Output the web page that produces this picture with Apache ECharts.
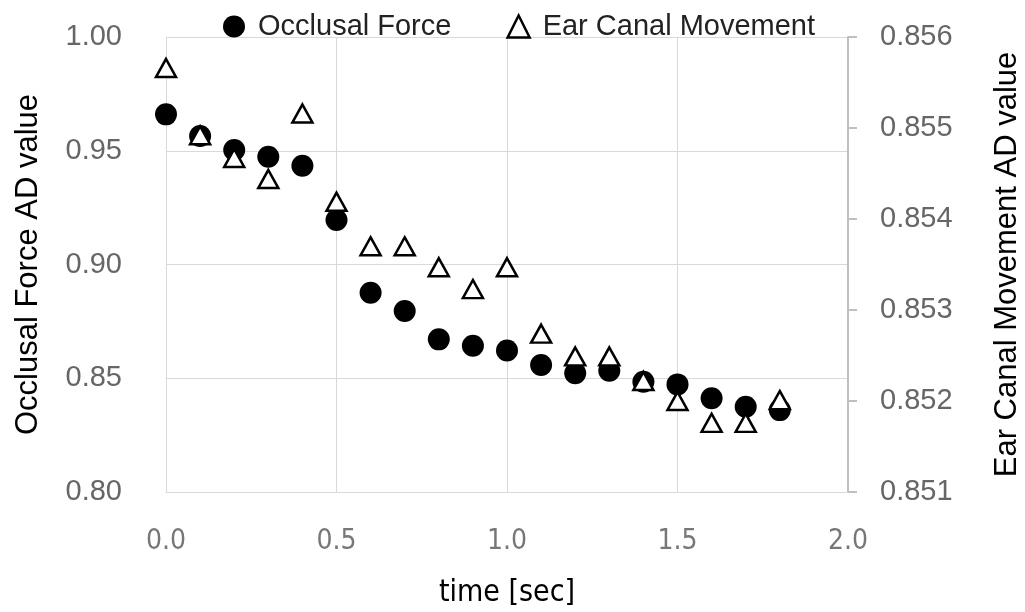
<!DOCTYPE html>
<html>
<head>
<meta charset="utf-8">
<script src="https://cdn.jsdelivr.net/npm/echarts@6/dist/echarts.min.js"></script>
<style>html,body{margin:0;padding:0;background:#fff;}#c{width:1025px;height:612px;}</style>
</head>
<body>
<div id="c"></div>
<script>
const times = [0.0, 0.1, 0.2, 0.3, 0.4, 0.5, 0.6, 0.7, 0.8, 0.9, 1.0, 1.1, 1.2, 1.3, 1.4, 1.5, 1.6, 1.7, 1.8];
const occlusalForce = [0.966, 0.9565, 0.9503, 0.9474, 0.9434, 0.9196, 0.8876, 0.8796, 0.8671, 0.8643, 0.8622, 0.8558, 0.8522, 0.8533, 0.8485, 0.8473, 0.8412, 0.8375, 0.836];
const earCanal = [0.85566, 0.85492, 0.85467, 0.85444, 0.85516, 0.85419, 0.85370, 0.85370, 0.85347, 0.85323, 0.85347, 0.85274, 0.85249, 0.85249, 0.85222, 0.85200, 0.85176, 0.85176, 0.85201];
const xTicks = {min: 0, max: 2, interval: 0.5};
const leftTicks = {min: 0.80, max: 1.00, interval: 0.05};
const rightTicks = {min: 0.851, max: 0.856, interval: 0.001};
const seriesNames = ['Occlusal Force', 'Ear Canal Movement'];

const chart = echarts.init(document.getElementById('c'));
const grid = '#d9d9d9';
chart.setOption({
  animation: false,
  backgroundColor: '#fff',
  grid: {left: 166, right: 177, top: 37, bottom: 120, containLabel: false, outerBoundsMode: 'none'},
  legend: {
    left: 218, top: 7,
    itemWidth: 22, itemHeight: 22, itemGap: 55,
    textStyle: {fontFamily: 'Liberation Sans', fontSize: 29, color: '#222', padding: [0, 0, 0, 8]},
    data: [
      {name: seriesNames[0], icon: 'circle', itemStyle: {color: '#000'}},
      {name: seriesNames[1], icon: 'triangle', itemStyle: {color: '#fff', borderColor: '#000', borderWidth: 2.5}}
    ]
  },
  xAxis: {
    type: 'value', min: xTicks.min, max: xTicks.max, interval: xTicks.interval,
    name: 'time [sec]', nameLocation: 'middle', nameGap: 86,
    nameTextStyle: {fontFamily: 'DejaVu Sans Condensed, Liberation Sans', fontSize: 30, color: '#000'},
    axisLine: {show: true, lineStyle: {color: grid, width: 1}},
    axisTick: {show: false},
    splitLine: {show: true, lineStyle: {color: grid, width: 1}},
    axisLabel: {margin: 36, fontFamily: 'DejaVu Sans Condensed, Liberation Sans', fontSize: 28, color: '#777',
      formatter: v => v.toFixed(1)}
  },
  yAxis: [
    {
      type: 'value', min: leftTicks.min, max: leftTicks.max, interval: leftTicks.interval,
      name: 'Occlusal Force AD value', nameLocation: 'middle', nameGap: 122,
      nameTextStyle: {fontFamily: 'Liberation Sans', fontSize: 31, color: '#000'},
      axisLine: {show: true, lineStyle: {color: grid, width: 1}},
      axisTick: {show: false},
      splitLine: {show: true, lineStyle: {color: grid, width: 1}},
      axisLabel: {margin: 44, fontFamily: 'Liberation Sans', fontSize: 29, color: '#666',
        formatter: v => v.toFixed(2)}
    },
    {
      type: 'value', position: 'right', min: rightTicks.min, max: rightTicks.max, interval: rightTicks.interval,
      name: 'Ear Canal Movement AD value', nameLocation: 'middle', nameGap: 144, nameRotate: 90,
      nameTextStyle: {fontFamily: 'Liberation Sans', fontSize: 31, color: '#000'},
      axisLine: {show: true, lineStyle: {color: '#bfbfbf', width: 2}},
      axisTick: {show: true, length: 9, lineStyle: {color: '#bfbfbf', width: 2}},
      splitLine: {show: false},
      axisLabel: {margin: 32, fontFamily: 'Liberation Sans', fontSize: 29, color: '#666',
        formatter: v => v.toFixed(3)}
    }
  ],
  series: [
    {
      name: seriesNames[0], type: 'scatter', yAxisIndex: 0,
      symbol: 'circle', symbolSize: 22,
      itemStyle: {color: '#000', opacity: 1},
      data: times.map((t, i) => [t, occlusalForce[i]])
    },
    {
      name: seriesNames[1], type: 'scatter', yAxisIndex: 1,
      symbol: 'triangle', symbolSize: [20, 18],
      itemStyle: {color: '#fff', borderColor: '#000', borderWidth: 2.5, opacity: 1},
      data: times.map((t, i) => [t, earCanal[i]])
    }
  ]
});
</script>
</body>
</html>
